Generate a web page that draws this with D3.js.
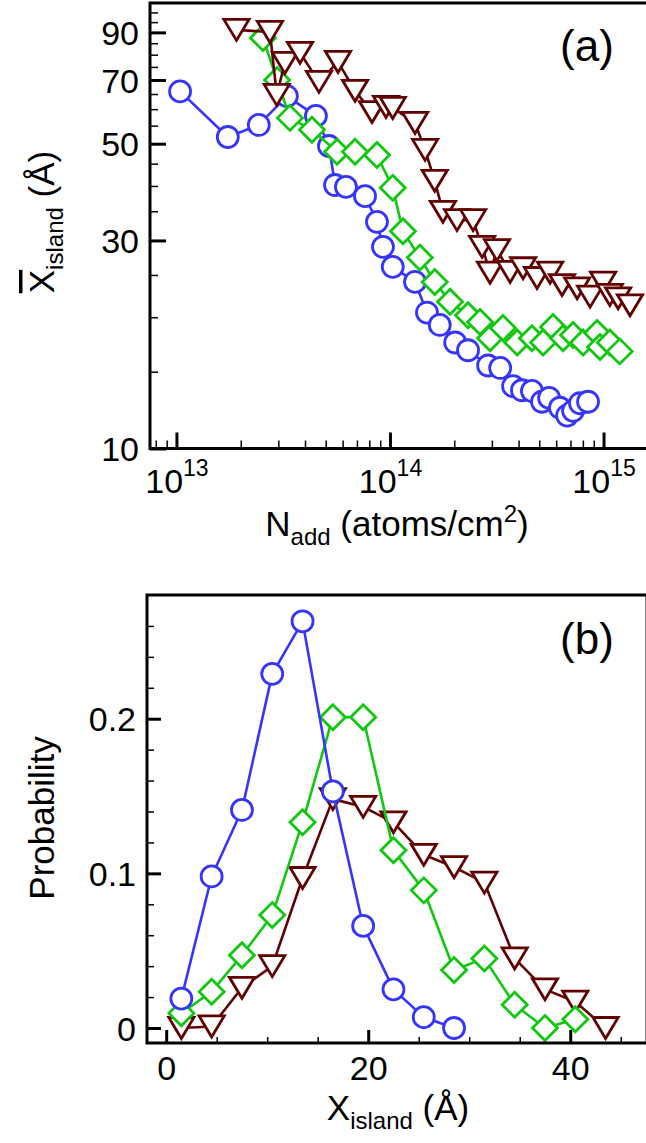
<!DOCTYPE html>
<html>
<head>
<meta charset="utf-8">
<script src="https://cdn.jsdelivr.net/npm/d3@7"></script>
<style>
  body { margin: 0; background: #fff; }
  svg { display: block; }
  text { font-family: 'Liberation Sans', Arial, Helvetica, sans-serif; fill: #000; }
</style>
</head>
<body>
<svg id="chart" width="646" height="1143"></svg>
<script>
// ---------- Panel (a): mean island size vs. number of added atoms ----------
const circN = [1.04e13, 1.74e13, 2.43e13, 3.29e13, 4.50e13, 5.18e13, 5.53e13, 6.22e13, 7.64e13, 8.69e13,
               9.27e13, 1.03e14, 1.31e14, 1.49e14, 1.71e14, 2.02e14, 2.32e14, 2.88e14, 3.28e14, 3.77e14,
               4.15e14, 4.62e14, 5.15e14, 5.56e14, 6.25e14, 6.75e14, 7.20e14, 7.76e14, 8.46e14];
const circX = [65.9, 51.8, 55.2, 64.3, 57.9, 49.4, 40.2, 39.8, 37.9, 33.1,
               29.0, 26.1, 24.1, 20.5, 19.2, 17.5, 16.8, 15.5, 15.3, 13.9,
               13.6, 13.55, 12.8, 13.06, 12.4, 11.9, 12.2, 12.7, 12.8];

const diamN = [2.54e13, 2.96e13, 3.40e13, 4.31e13, 5.65e13, 6.86e13, 8.69e13, 1.03e14, 1.15e14, 1.38e14,
               1.62e14, 1.91e14, 2.32e14, 2.64e14, 2.94e14, 3.38e14, 3.94e14, 4.62e14, 5.21e14, 5.80e14,
               6.46e14, 7.20e14, 8.02e14, 9.33e14, 9.63e14, 1.07e15, 1.19e15];
const diamX = [87.4, 70.0, 57.3, 53.8, 47.9, 47.9, 47.1, 39.6, 31.5, 27.4,
               24.1, 21.7, 20.2, 19.5, 17.9, 18.9, 17.5, 17.9, 17.5, 19.0,
               17.9, 18.2, 17.5, 18.4, 17.1, 17.5, 16.7];

const triN = [1.91e13, 2.74e13, 2.95e13, 3.22e13, 3.79e13, 4.65e13, 5.71e13, 6.86e13, 8.24e13, 9.58e13,
              1.03e14, 1.31e14, 1.46e14, 1.62e14, 1.77e14, 2.06e14, 2.45e14, 2.70e14, 2.94e14, 3.17e14,
              3.65e14, 4.20e14, 4.88e14, 5.62e14, 6.39e14, 7.52e14, 8.65e14, 9.95e14, 1.07e15, 1.17e15, 1.33e15];
const triX = [91.2, 90.2, 64.7, 76.6, 80.8, 69.3, 77.0, 66.1, 59.1, 60.7,
              60.4, 55.8, 48.4, 41.1, 34.9, 33.4, 33.4, 29.0, 25.3, 28.5,
              25.4, 25.9, 24.6, 25.3, 23.7, 23.3, 22.3, 24.0, 22.5, 22.1, 21.3];

const aXDomain = [7.52e12, 1.65e15];
const aYDomain = [10, 105.1];
const aXMajor = [1e13, 1e14, 1e15];
const aXExp = ["13", "14", "15"];
const aXMinor = [8e12, 9e12,
                 2e13, 3e13, 4e13, 5e13, 6e13, 7e13, 8e13, 9e13,
                 2e14, 3e14, 4e14, 5e14, 6e14, 7e14, 8e14, 9e14];
const aYMajor = [10, 30, 50, 70, 90];
const aYMinor = [15, 20, 25, 35, 40, 45, 55, 60, 65, 75, 80, 85, 95, 100];

// ---------- Panel (b): island size distributions ----------
const binX = [1.5, 4.5, 7.5, 10.5, 13.5, 16.5, 19.5, 22.5, 25.5, 28.5, 31.5, 34.5, 37.5, 40.5, 43.5];
const circP = [0.019, 0.098, 0.141, 0.229, 0.263, 0.153, 0.066, 0.025, 0.007, 0.0];
const diamP = [0.0095, 0.0235, 0.047, 0.073, 0.133, 0.201, 0.201, 0.115, 0.089, 0.0375, 0.045, 0.015, 0.0, 0.0056];
const triP  = [0.0, 0.001, 0.026, 0.040, 0.097, 0.148, 0.143, 0.133, 0.112, 0.104, 0.094, 0.045, 0.025, 0.017, 0.0];

const bXDomain = [-1.9, 47.6];
const bYDomain = [-0.0097, 0.28];
const bXMajor = [0, 20, 40];
const bXMinor = [5, 10, 15, 25, 30, 35, 45];
const bYMajor = [0, 0.1, 0.2];
const bYMinor = [0.02, 0.04, 0.06, 0.08, 0.12, 0.14, 0.16, 0.18, 0.22, 0.24, 0.26];

const BLUE = "#3535ff", GREEN = "#10c810", BROWN = "#620000";
const TICK_FS = 34, TITLE_FS = 35, SUB_FS = 24;

const svg = d3.select("#chart");

function diamondPath(h) { return `M0,${-h}L${h},0L0,${h}L${-h},0Z`; }
function triDownPath(w, hgt) { return `M${-w/2},${-hgt/2}L${w/2},${-hgt/2}L0,${hgt/2}Z`; }

function drawSeries(g, pts, color, kind, size) {
  const line = d3.line().x(d => d[0]).y(d => d[1]);
  g.append("path").attr("d", line(pts)).attr("fill", "none")
    .attr("stroke", color).attr("stroke-width", 2.6).attr("stroke-linejoin", "round");
  const sel = g.selectAll(null).data(pts).enter().append("path")
    .attr("transform", d => `translate(${d[0]},${d[1]})`)
    .attr("fill", "#fff").attr("stroke", color).attr("stroke-width", 2.8);
  if (kind === "circle") sel.attr("d", d3.symbol().type(d3.symbolCircle).size(Math.PI * size * size));
  if (kind === "diamond") sel.attr("d", diamondPath(size));
  if (kind === "tri") sel.attr("d", triDownPath(size * 1.2, size));
}

function frame(g, x0, x1, y0, y1) {
  g.append("rect").attr("x", x0).attr("y", y0).attr("width", x1 - x0).attr("height", y1 - y0)
    .attr("fill", "none").attr("stroke", "#000").attr("stroke-width", 3);
}

function tickAxis(g, axis, transform, width) {
  const a = g.append("g").attr("transform", transform).call(axis);
  a.select(".domain").remove();
  a.selectAll(".tick line").attr("stroke", "#000").attr("stroke-width", width);
  return a;
}

// ======================= Panel (a) =======================
{
  const L = 150, R = 650, T = 3, B = 448.5;
  const x = d3.scaleLog().domain(aXDomain).range([L, R]);
  const y = d3.scaleLog().domain(aYDomain).range([B, T]);
  const g = svg.append("g");

  // inward ticks
  tickAxis(g, d3.axisLeft(y).tickValues(aYMinor).tickSize(-8).tickFormat(""), `translate(${L},0)`, 1.5);
  const ya = tickAxis(g, d3.axisLeft(y).tickValues(aYMajor).tickSize(-16).tickPadding(11).tickFormat(d3.format("d")),
    `translate(${L},0)`, 3);
  ya.selectAll("text").attr("font-size", TICK_FS).attr("dy", "0.36em");

  tickAxis(g, d3.axisBottom(x).tickValues(aXMinor).tickSize(-8).tickFormat(""), `translate(0,${B})`, 1.5);
  const xa = tickAxis(g, d3.axisBottom(x).tickValues(aXMajor).tickSize(-16).tickPadding(14).tickFormat(""),
    `translate(0,${B})`, 3);
  xa.selectAll(".tick text").each(function(d, i) {
    const t = d3.select(this).attr("font-size", TICK_FS).attr("dy", "0.9em");
    t.append("tspan").text("10");
    t.append("tspan").attr("font-size", 23).attr("dy", "-0.75em").text(aXExp[i]);
  });

  const plot = g.append("g");
  drawSeries(plot, circN.map((n, i) => [x(n), y(circX[i])]), BLUE, "circle", 10.5);
  drawSeries(plot, diamN.map((n, i) => [x(n), y(diamX[i])]), GREEN, "diamond", 12.5);
  drawSeries(plot, triN.map((n, i) => [x(n), y(triX[i])]), BROWN, "tri", 21);

  frame(g, L, R, T, B);

  g.append("text").attr("x", 587).attr("y", 61).attr("text-anchor", "middle")
    .attr("font-size", 44).text("(a)");

  // x title
  const xt = g.append("text").attr("x", 397).attr("y", 536).attr("text-anchor", "middle").attr("font-size", TITLE_FS);
  xt.append("tspan").text("N");
  xt.append("tspan").attr("font-size", SUB_FS).attr("dy", 9).text("add");
  xt.append("tspan").attr("dy", -9).text(" (atoms/cm");
  xt.append("tspan").attr("font-size", SUB_FS).attr("dy", -14).text("2");
  xt.append("tspan").attr("dy", 14).text(")");

  // y title
  const yt = g.append("text").attr("transform", "translate(54,222) rotate(-90)")
    .attr("text-anchor", "middle").attr("font-size", TITLE_FS);
  yt.append("tspan").style("text-decoration", "overline").text("X");
  yt.append("tspan").attr("font-size", SUB_FS).attr("dy", 9).text("island");
  yt.append("tspan").attr("dy", -9).text(" (Å)");
}

// ======================= Panel (b) =======================
{
  const L = 147, R = 647, T = 595, B = 1043;
  const x = d3.scaleLinear().domain(bXDomain).range([L, R]);
  const y = d3.scaleLinear().domain(bYDomain).range([B, T]);
  const g = svg.append("g");

  tickAxis(g, d3.axisLeft(y).tickValues(bYMinor).tickSize(-7).tickFormat(""), `translate(${L},0)`, 1.5);
  const ya = tickAxis(g, d3.axisLeft(y).tickValues(bYMajor).tickSize(-14).tickPadding(11)
    .tickFormat(d => d === 0 ? "0" : d3.format(".1f")(d)), `translate(${L},0)`, 3);
  ya.selectAll("text").attr("font-size", TICK_FS).attr("dy", "0.36em");

  tickAxis(g, d3.axisBottom(x).tickValues(bXMinor).tickSize(-6).tickFormat(""), `translate(0,${B})`, 1.5);
  const xa = tickAxis(g, d3.axisBottom(x).tickValues(bXMajor).tickSize(-13).tickPadding(13).tickFormat(d3.format("d")),
    `translate(0,${B})`, 3);
  xa.selectAll("text").attr("font-size", TICK_FS).attr("dy", "0.72em");

  const plot = g.append("g");
  drawSeries(plot, binX.slice(0, triP.length).map((v, i) => [x(v), y(triP[i])]), BROWN, "tri", 21);
  drawSeries(plot, binX.slice(0, diamP.length).map((v, i) => [x(v), y(diamP[i])]), GREEN, "diamond", 12.5);
  drawSeries(plot, binX.slice(0, circP.length).map((v, i) => [x(v), y(circP[i])]), BLUE, "circle", 10.5);

  frame(g, L, R, T, B);

  g.append("text").attr("x", 587).attr("y", 654).attr("text-anchor", "middle")
    .attr("font-size", 44).text("(b)");

  const xt = g.append("text").attr("x", 398).attr("y", 1120).attr("text-anchor", "middle").attr("font-size", TITLE_FS);
  xt.append("tspan").text("X");
  xt.append("tspan").attr("font-size", SUB_FS).attr("dy", 9).text("island");
  xt.append("tspan").attr("dy", -9).text(" (Å)");

  g.append("text").attr("transform", "translate(54,818) rotate(-90)")
    .attr("text-anchor", "middle").attr("font-size", TITLE_FS).text("Probability");
}
</script>
</body>
</html>
